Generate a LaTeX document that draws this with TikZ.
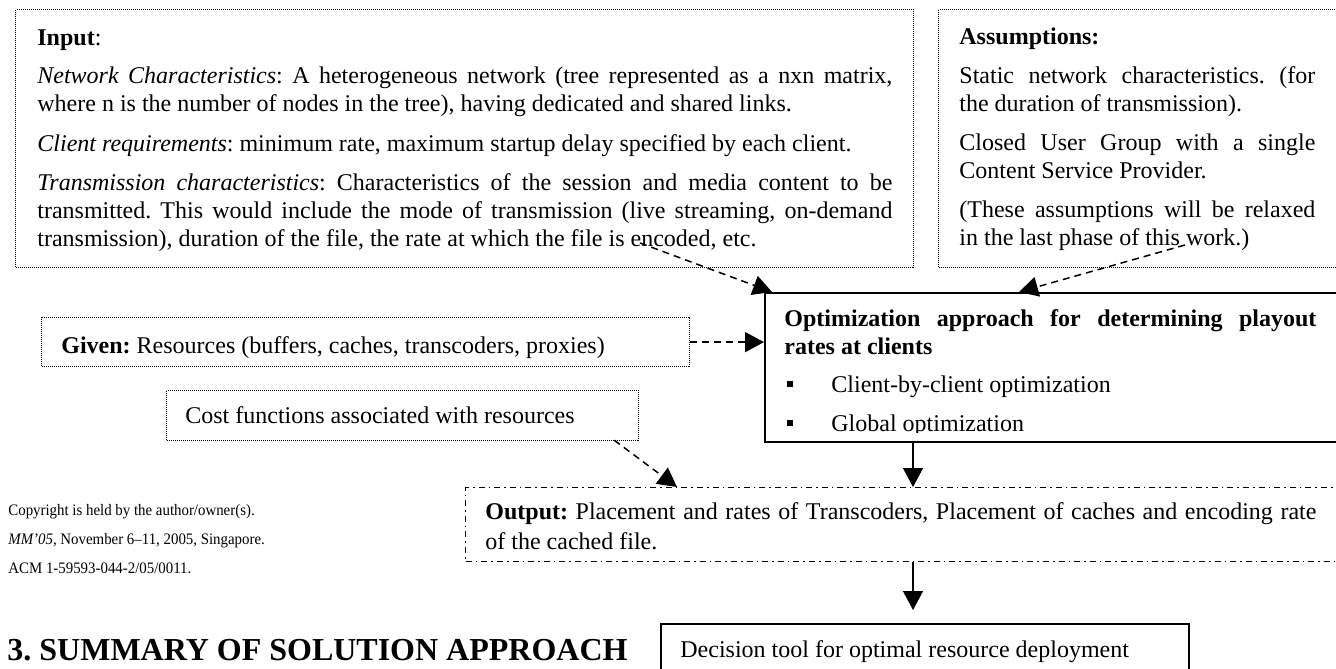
\documentclass[tikz,border=0pt]{standalone}
\usepackage{fontspec}
\setmainfont{Liberation Serif}
\newfontfamily\condfont[FakeStretch=0.93]{Liberation Serif}
\usetikzlibrary{arrows.meta,calc}
\hyphenpenalty=10000
\exhyphenpenalty=10000
\tolerance=9999
\emergencystretch=20pt
\frenchspacing
\tikzset{
  dotbox/.style={draw, line width=0.6pt, dash pattern=on 0.5pt off 0.5pt, inner sep=0pt, anchor=north west},
  solidbox/.style={draw, line width=1pt, inner sep=0pt, anchor=north west},
  dashdotbox/.style={draw, line width=0.7pt, dash pattern=on 3pt off 2pt on 0.8pt off 2pt, inner sep=0pt, anchor=north west},
  dasharrow/.style={line width=0.75pt, dash pattern=on 3.5pt off 2.5pt, -{Triangle[length=9.5pt,width=10pt]}},
  solidarrow/.style={line width=0.7pt, -{Triangle[length=9.5pt,width=10pt]}},
  txt/.style={inner sep=0pt, anchor=base west, font=\fontsize{12pt}{14pt}\selectfont},
  para/.style={inner sep=0pt, anchor=north west, align=justify, font=\fontsize{12pt}{14pt}\selectfont},
  small/.style={inner sep=0pt, anchor=base west, font=\condfont\fontsize{8pt}{10pt}\selectfont},
  headtxt/.style={inner sep=0pt, anchor=base west, font=\fontsize{16pt}{18pt}\selectfont\bfseries}
}
\begin{document}
\begin{tikzpicture}[x=0.5pt,y=-0.5pt]
\clip (0,0) rectangle (1336,668);
\fill[white] (0,0) rectangle (1336,668);

% ---------- boxes ----------
\node[dotbox, minimum width=449pt, minimum height=129pt] (input) at (15,9) {};
\node[dotbox, minimum width=206pt, minimum height=129pt] (assum) at (938,9) {};
\node[solidbox, minimum width=293pt, minimum height=74.5pt] (opt) at (764,292) {};
\node[dotbox, minimum width=324pt, minimum height=24.5pt] (given) at (41,317) {};
\node[dotbox, minimum width=236pt, minimum height=25pt] (cost) at (166,390) {};
\node[dashdotbox, minimum width=442.5pt, minimum height=37pt] (output) at (465,487) {};
\node[solidbox, minimum width=264pt, minimum height=60pt] (decision) at (660,623) {};

% ---------- input text ----------
\node[txt] (inputtitle) at (37,46) {\textbf{Input}:};
\node[para, text width=427.5pt] (inp1) at (37,63.4) {\strut\textit{Network Characteristics}: A heterogeneous network (tree represented as a nxn matrix,\linebreak where n is the number of nodes in the tree), having dedicated and shared links.};
\node[para, text width=427.5pt] (inp2) at (37,131.4) {\strut\textit{Client requirements}: minimum rate, maximum startup delay specified by each client.};
\node[para, text width=427.5pt] (inp3) at (37,170.4) {\strut\textit{Transmission characteristics}: Characteristics of the session and media content to be\linebreak transmitted. This would include the mode of transmission (live streaming, on-demand\linebreak transmission), duration of the file, the rate at which the file is encoded, etc.};

% ---------- assumptions text ----------
\node[txt] (assumtitle) at (959,45) {\textbf{Assumptions:}};
\node[para, text width=178pt] (as1) at (959,63.4) {\strut Static network characteristics. (for\linebreak the duration of transmission).};
\node[para, text width=178pt] (as2) at (959,130.4) {\strut Closed User Group with a single\linebreak Content Service Provider.};
\node[para, text width=178pt] (as3) at (959,197.4) {\strut(These assumptions will be relaxed\linebreak in the last phase of this work.)};

% ---------- optimization text ----------
\node[para, text width=266pt] (opttitle) at (784,306.4) {\strut\textbf{Optimization approach for determining playout\linebreak rates at clients}};
\node[txt] (b1) at (787,392) {\rule[2.5pt]{3pt}{3pt}};
\node[txt] (opt1) at (831,392) {Client-by-client optimization};
\node[txt] (b2) at (787,431) {\rule[2.5pt]{3pt}{3pt}};
\begin{scope}
\clip (820,395) rectangle (1100,432);
\node[txt] (opt2) at (831,431) {Global optimization};
\end{scope}

% ---------- given / cost ----------
\node[txt] (giventxt) at (61,353) {\textbf{Given:} Resources (buffers, caches, transcoders, proxies)};
\node[txt] (costtxt) at (185,423) {Cost functions associated with resources};

% ---------- output ----------
\node[para, text width=415.5pt, font=\fontsize{12pt}{15pt}\selectfont] (outtxt) at (485,497.6) {\strut\textbf{Output:} Placement and rates of Transcoders, Placement of caches and encoding rate\linebreak of the cached file.};

% ---------- decision ----------
\node[txt] (dectxt) at (680,657) {Decision tool for optimal resource deployment};

% ---------- copyright & heading ----------
\node[small] (copy1) at (8,515) {Copyright is held by the author/owner(s).};
\node[small] (copy2) at (8,544) {\textit{MM’05},\ November 6–11, 2005, Singapore.};
\node[small] (copy3) at (8,573) {ACM 1-59593-044-2/05/0011.};
\node[headtxt] (heading) at (7,660) {3. SUMMARY OF SOLUTION APPROACH};

% ---------- connectors ----------
\coordinate (encpt) at (640,243);
\coordinate (workpt) at (1185,245);
\draw[dasharrow] (encpt) -- ($(opt.north west)+(8,0)$);
\draw[dasharrow] (workpt) -- ($(opt.north west)+(255,0)$);
\draw[dasharrow] (given.east) -- (given.east -| opt.west);
\draw[dasharrow] ($(cost.south east)+(-25,-1)$) -- ($(output.north west)+(212,0)$);
\draw[solidarrow] ($(opt.south west)+(149,0)$) -- ($(output.north west)+(448,0)$);
\draw[solidarrow] ($(output.south west)+(448,0)$) -- ($(decision.north west)+(253,-13)$);
\end{tikzpicture}
\end{document}
